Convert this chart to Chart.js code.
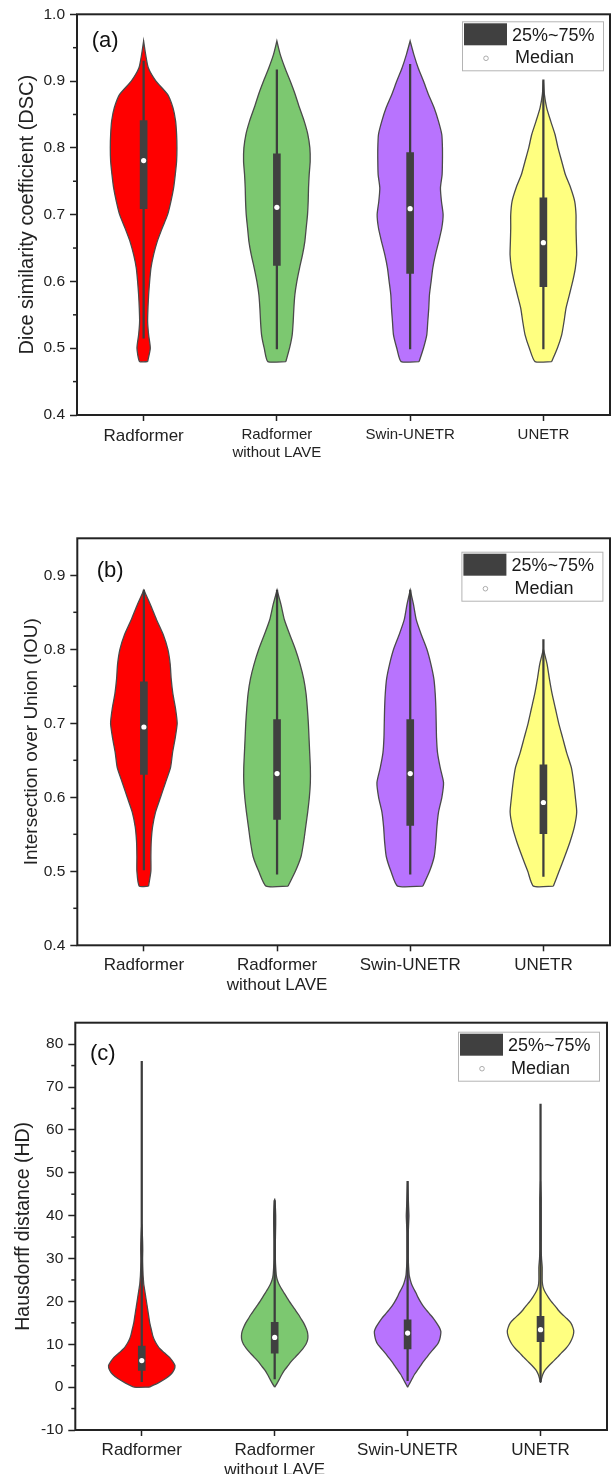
<!DOCTYPE html>
<html><head><meta charset="utf-8">
<script src="https://cdn.jsdelivr.net/npm/chart.js@4.4.1/dist/chart.umd.min.js"></script>
<style>
html,body{margin:0;padding:0;background:#fff;}
#wrap{position:relative;width:616px;height:1474px;overflow:hidden;background:#fff;}
canvas{position:absolute;left:0;}
</style></head><body>
<div id="wrap">
<canvas id="cA" width="616" height="490" style="top:0px"></canvas>
<canvas id="cB" width="616" height="500" style="top:490px"></canvas>
<canvas id="cC" width="616" height="484" style="top:990px"></canvas>
</div>
<script>
// ---------- data ----------
const categories = ['Radformer', ['Radformer', 'without LAVE'], 'Swin-UNETR', 'UNETR'];
const legendLabels = ['25%~75%', 'Median'];
const panelTags = ['(a)', '(b)', '(c)'];

// (a) DSC
const dscLevels = [0.48,0.50,0.52,0.54,0.56,0.58,0.60,0.62,0.64,0.66,0.68,0.70,0.72,0.74,0.76,0.78,0.80,0.82,0.84,0.86,0.88,0.90,0.92,0.94,0.96];
const dscRadformer = [0.12,0.20,0.15,0.12,0.13,0.15,0.18,0.22,0.30,0.41,0.56,0.72,0.82,0.90,0.95,0.99,1.00,0.99,0.96,0.88,0.72,0.37,0.14,0.06,0];
const dscNoLave    = [0.27,0.38,0.46,0.49,0.51,0.54,0.60,0.68,0.77,0.84,0.88,0.92,0.94,0.95,0.97,1.00,0.99,0.93,0.82,0.68,0.55,0.40,0.24,0.10,0];
const dscSwin      = [0.27,0.40,0.50,0.53,0.56,0.58,0.63,0.68,0.76,0.86,0.95,0.99,0.94,0.91,0.96,0.97,0.97,0.95,0.85,0.72,0.55,0.40,0.24,0.11,0];
const dscUnetr     = [0.25,0.42,0.55,0.62,0.68,0.78,0.88,0.96,1.00,0.99,0.98,0.98,0.94,0.82,0.66,0.55,0.44,0.35,0.22,0.10,0.03,0,null,null,null];
const dscQ1  = [0.709, 0.624, 0.612, 0.592];
const dscQ3  = [0.841, 0.791, 0.793, 0.725];
const dscMed = [0.781, 0.711, 0.709, 0.658];
const dscLo  = [0.515, 0.499, 0.499, 0.499];
const dscHi  = [0.930, 0.917, 0.925, 0.902];
const dscTicks = [0.4,0.5,0.6,0.7,0.8,0.9,1.0];
const dscTickLabels = ['0.4','0.5','0.6','0.7','0.8','0.9','1.0'];
const dscMinor = [0.45,0.55,0.65,0.75,0.85,0.95];

// (b) IOU
const iouLevels = [0.48,0.50,0.52,0.54,0.56,0.58,0.60,0.62,0.64,0.66,0.68,0.70,0.72,0.74,0.76,0.78,0.80,0.82,0.84,0.86,0.88];
const iouRadformer = [0.14,0.21,0.21,0.22,0.26,0.35,0.50,0.65,0.80,0.86,0.94,1.00,0.95,0.87,0.82,0.79,0.72,0.58,0.38,0.20,0];
const iouNoLave    = [0.33,0.55,0.72,0.80,0.86,0.92,0.97,1.00,1.00,0.98,0.96,0.94,0.91,0.87,0.80,0.69,0.55,0.38,0.22,0.12,0];
const iouSwin      = [0.38,0.58,0.72,0.77,0.80,0.85,0.95,1.00,0.90,0.82,0.79,0.78,0.77,0.75,0.71,0.62,0.50,0.33,0.18,0.10,0];
const iouUnetr     = [0.30,0.47,0.64,0.80,0.93,1.00,0.96,0.91,0.84,0.70,0.58,0.46,0.36,0.26,0.18,0.11,0,null,null,null,null];
const iouQ1  = [0.631, 0.570, 0.562, 0.551];
const iouQ3  = [0.756, 0.705, 0.705, 0.644];
const iouMed = [0.695, 0.632, 0.632, 0.593];
const iouLo  = [0.502, 0.496, 0.496, 0.493];
const iouHi  = [0.880, 0.880, 0.880, 0.813];
const iouTicks = [0.4,0.5,0.6,0.7,0.8,0.9];
const iouTickLabels = ['0.4','0.5','0.6','0.7','0.8','0.9'];
const iouMinor = [0.45,0.55,0.65,0.75,0.85];

// (c) HD
const hdLevels = [0,1,2,3,4,5,6,7,8,9,10,11,12,13,14,15,16,17,18,19,20,21,22,23,24,25,26,28,30,32,34,36,38,40,42,44,46,48];
const hdRadformer = [0.22,0.50,0.72,0.88,0.97,1.00,0.93,0.83,0.68,0.54,0.45,0.38,0.33,0.30,0.27,0.24,0.22,0.20,0.18,0.16,0.14,0.12,0.10,0.08,0.06,0.05,0.04,0.03,0.025,0.03,0.025,0.015,0,null,null,null,null,null];
const hdNoLave    = [0,0.08,0.15,0.22,0.30,0.40,0.50,0.62,0.74,0.85,0.94,0.99,1.00,0.98,0.93,0.87,0.79,0.71,0.62,0.53,0.44,0.36,0.28,0.20,0.13,0.08,0.05,0.03,0.02,0.02,0.02,0.025,0.03,0.03,0.02,0,null,null];
const hdSwin      = [0,0.07,0.14,0.21,0.30,0.39,0.48,0.58,0.68,0.79,0.90,0.96,0.99,1.00,0.95,0.87,0.78,0.67,0.56,0.46,0.38,0.31,0.25,0.18,0.12,0.08,0.05,0.03,0.02,0.02,0.02,0.02,0.03,0.04,0.03,0.02,0.01,0];
const hdUnetr     = [null,0,0.03,0.07,0.14,0.25,0.38,0.51,0.63,0.76,0.86,0.93,0.98,1.00,0.97,0.91,0.79,0.65,0.53,0.43,0.32,0.23,0.15,0.09,0.06,0.05,0.05,0.05,0.03,0.02,0.02,0.02,0.02,0.02,0.02,0.02,0.01,0];
const hdQ1  = [3.9, 7.9, 8.9, 10.6];
const hdQ3  = [9.6, 15.1, 15.7, 16.5];
const hdMed = [6.2, 11.6, 12.6, 13.4];
const hdLo  = [1.3, 1.9, 1.5, 1.3];
const hdHi  = [76, 43.5, 48, 66];
const hdTicks = [-10,0,10,20,30,40,50,60,70,80];
const hdTickLabels = ['-10','0','10','20','30','40','50','60','70','80'];
const hdMinor = [-5,5,15,25,35,45,55,65,75];

// ---------- styling ----------
const FONT = "'Liberation Sans', Arial, Helvetica, sans-serif";
const violinColors = ['#ff0000', '#7cc870', '#b873fe', '#ffff80'];
const HALF = 0.25; // max half width of a violin in category units

function violinPoints(levels, widths, i) {
  const idx = [];
  widths.forEach((w, k) => { if (w !== null) idx.push(k); });
  const pts = [];
  idx.forEach(k => pts.push({x: i + widths[k] * HALF, y: levels[k]}));
  idx.slice().reverse().forEach(k => pts.push({x: i - widths[k] * HALF, y: levels[k]}));
  pts.push({x: pts[0].x, y: pts[0].y});
  return pts;
}

function buildDatasets(levels, widthsList, lo, hi, q1, q3, med) {
  const ds = [];
  widthsList.forEach((w, i) => ds.push({
    type: 'line', data: violinPoints(levels, w, i),
    borderColor: '#4a4a4a', borderWidth: 1.3, backgroundColor: violinColors[i],
    fill: 'shape', pointRadius: 0, tension: 0.2, order: 3
  }));
  ds.push({type: 'bar', data: lo.map((v, i) => ({x: i, y: [v, hi[i]]})),
    backgroundColor: '#3d3d3d', barThickness: 1.6, grouped: false, order: 2});
  ds.push({type: 'bar', data: q1.map((v, i) => ({x: i, y: [v, q3[i]]})),
    backgroundColor: '#404040', barThickness: 7, grouped: false, order: 1});
  ds.push({type: 'scatter', data: med.map((v, i) => ({x: i, y: v})),
    pointRadius: 2.6, backgroundColor: '#ffffff', borderWidth: 0, order: 0});
  return ds;
}

const decorPlugin = {
  id: 'decor',
  afterDraw(chart, args, o) {
    const ctx = chart.ctx, ca = chart.chartArea, ys = chart.scales.y;
    ctx.save();
    ctx.strokeStyle = '#222'; ctx.lineWidth = 1.5;
    o.minor.forEach(v => {
      const py = ys.getPixelForValue(v);
      ctx.beginPath(); ctx.moveTo(ca.left - 4, py); ctx.lineTo(ca.left, py); ctx.stroke();
    });
    ctx.lineWidth = 2;
    ctx.strokeRect(ca.left, ca.top, ca.right - ca.left, ca.bottom - ca.top);
    ctx.fillStyle = '#111'; ctx.font = '22px ' + FONT;
    ctx.textBaseline = 'middle'; ctx.textAlign = 'left';
    ctx.fillText(o.tag, ca.left + o.tagDx, ca.top + o.tagDy);
    const bw = 141, bh = 49;
    const bx = ca.right - o.legDx - bw, by = ca.top + o.legDy;
    ctx.fillStyle = '#fff'; ctx.fillRect(bx, by, bw, bh);
    ctx.strokeStyle = '#b4b4b4'; ctx.lineWidth = 1;
    ctx.strokeRect(bx + 0.5, by + 0.5, bw, bh);
    ctx.fillStyle = '#404040'; ctx.fillRect(bx + 2, by + 2, 43, 22);
    ctx.fillStyle = '#1a1a1a'; ctx.font = '18px ' + FONT;
    ctx.fillText(legendLabels[0], bx + 50, by + 14.5);
    ctx.fillText(legendLabels[1], bx + 53, by + 37);
    ctx.beginPath(); ctx.arc(bx + 24, by + 37, 2.3, 0, Math.PI * 2);
    ctx.fillStyle = '#fff'; ctx.fill(); ctx.strokeStyle = '#999'; ctx.lineWidth = 0.8; ctx.stroke();
    ctx.restore();
  }
};

function makeChart(id, p) {
  return new Chart(document.getElementById(id), {
    type: 'scatter',
    data: {datasets: p.datasets},
    options: {
      responsive: false, animation: false, events: [],
      layout: {padding: {top: p.padTop, right: p.padRight, left: 0, bottom: 0}},
      plugins: {
        legend: {display: false}, tooltip: {enabled: false},
        decor: {minor: p.minor, tag: p.tag, tagDx: p.tagDx, tagDy: p.tagDy, legDx: p.legDx, legDy: p.legDy}
      },
      scales: {
        x: {
          type: 'linear', min: -0.5, max: 3.5, offset: false,
          afterBuildTicks: s => { s.ticks = categories.map((c, i) => ({value: i})); },
          afterFit: s => { s.height = p.xHeight; },
          grid: {display: true, offset: false, drawOnChartArea: false, drawTicks: true, tickLength: 6, tickColor: '#222', tickWidth: 1.5},
          border: {display: false},
          ticks: {
            color: '#222', padding: p.xPad, autoSkip: false, maxRotation: 0, minRotation: 0,
            font: ctx => ({family: FONT, size: p.xFont[ctx.index] || 17}),
            callback: v => categories[Math.round(v)]
          }
        },
        y: {
          type: 'linear', min: p.yMin, max: p.yMax,
          afterBuildTicks: s => { s.ticks = p.yTicks.map(v => ({value: v})); },
          afterFit: s => { s.width = p.yWidth; },
          grid: {display: true, offset: false, drawOnChartArea: false, drawTicks: true, tickLength: 7, tickColor: '#222', tickWidth: 1.5},
          border: {display: false},
          ticks: {color: '#222', padding: 5, font: {family: FONT, size: 15.5},
            callback: (v, i) => p.yTickLabels[i]},
          title: {display: true, text: p.yTitle, color: '#222',
            font: {family: FONT, size: p.titleSize}, padding: {top: p.titlePad, bottom: 0}}
        }
      }
    },
    plugins: [decorPlugin]
  });
}

makeChart('cA', {
  datasets: buildDatasets(dscLevels, [dscRadformer, dscNoLave, dscSwin, dscUnetr], dscLo, dscHi, dscQ1, dscQ3, dscMed),
  padTop: 9, padRight: 6, yWidth: 77, xHeight: 75, xPad: 5, xFont: [17, 15, 15, 15],
  yMin: 0.4, yMax: 1.0, yTicks: dscTicks, yTickLabels: dscTickLabels, minor: dscMinor,
  yTitle: 'Dice similarity coefficient (DSC)', titleSize: 20, titlePad: 15.5,
  tag: panelTags[0], tagDx: 14.7, tagDy: 27, legDx: 7, legDy: 7
});
makeChart('cB', {
  datasets: buildDatasets(iouLevels, [iouRadformer, iouNoLave, iouSwin, iouUnetr], iouLo, iouHi, iouQ1, iouQ3, iouMed),
  padTop: 48.3, padRight: 6, yWidth: 77.3, xHeight: 44.7, xPad: 3.5, xFont: [17, 17, 17, 17],
  yMin: 0.4, yMax: 0.95, yTicks: iouTicks, yTickLabels: iouTickLabels, minor: iouMinor,
  yTitle: 'Intersection over Union (IOU)', titleSize: 19, titlePad: 20,
  tag: panelTags[1], tagDx: 19.4, tagDy: 32.7, legDx: 7.6, legDy: 13.4
});
makeChart('cC', {
  datasets: buildDatasets(hdLevels, [hdRadformer, hdNoLave, hdSwin, hdUnetr], hdLo, hdHi, hdQ1, hdQ3, hdMed),
  padTop: 32.7, padRight: 9, yWidth: 75.3, xHeight: 44, xPad: 4, xFont: [17, 17, 17, 17],
  yMin: -10, yMax: 85, yTicks: hdTicks, yTickLabels: hdTickLabels, minor: hdMinor,
  yTitle: 'Hausdorff distance (HD)', titleSize: 19.5, titlePad: 12.3,
  tag: panelTags[2], tagDx: 14.7, tagDy: 31.3, legDx: 8, legDy: 9
});
</script>
</body></html>
